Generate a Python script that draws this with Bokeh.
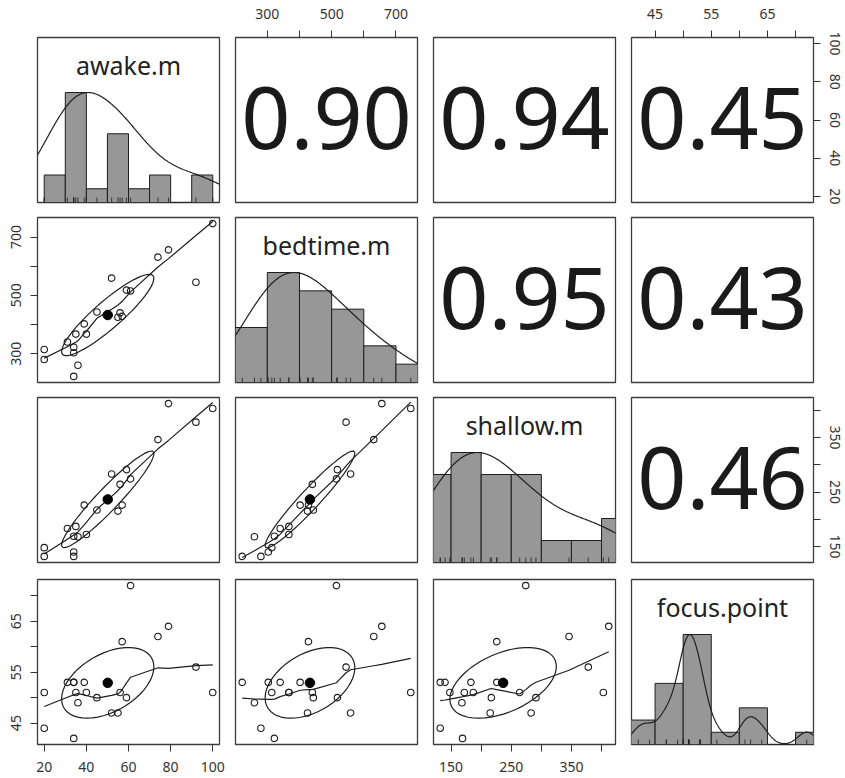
import math
import numpy as np
from bokeh.plotting import figure
from bokeh.layouts import gridplot
from bokeh.models import Range1d, LinearAxis, FixedTicker
from bokeh.core.properties import value
from bokeh.embed import file_html
from bokeh.resources import INLINE

# ---------------- data ----------------
var_names = ["awake.m", "bedtime.m", "shallow.m", "focus.point"]
awake = [61, 79, 74, 57, 92, 31, 39, 34, 34, 20, 35, 40, 56, 100, 45, 59, 36, 52, 55, 20, 34]
bedtime = [515, 656, 631, 428, 545, 340, 402, 303, 222, 314, 367, 367, 440, 746, 443, 518, 260, 559, 425, 280, 322]
shallow = [274, 412, 346, 226, 378, 183, 226, 140, 132, 148, 187, 172, 264, 403, 217, 291, 168, 283, 215, 132, 169]
focus = [72, 64, 62, 61, 56, 53, 53, 53, 53, 51, 51, 51, 51, 51, 50, 50, 49, 47, 47, 44, 42]

awake_breaks = [20, 30, 40, 50, 60, 70, 80, 90, 100]
bedtime_breaks = [200, 300, 400, 500, 600, 700, 800]
shallow_breaks = [100, 150, 200, 250, 300, 350, 400, 450]
focus_breaks = [40, 45, 50, 55, 60, 65, 70, 75]

awake_ticks = [20, 40, 60, 80, 100]
bedtime_ticks = [300, 400, 500, 600, 700]
shallow_ticks = [150, 200, 250, 300, 350, 400]
focus_ticks = [45, 50, 55, 60, 65, 70]
awake_tick_labels = ["20", "40", "60", "80", "100"]
bedtime_tick_labels = ["300", "", "500", "", "700"]
shallow_tick_labels = ["150", "", "250", "", "350", ""]
focus_tick_labels = ["45", "", "55", "", "65", ""]

corr_labels = [["", "0.90", "0.94", "0.45"],
               ["", "", "0.95", "0.43"],
               ["", "", "", "0.46"],
               ["", "", "", ""]]

series = [awake, bedtime, shallow, focus]
breaks = [awake_breaks, bedtime_breaks, shallow_breaks, focus_breaks]
ticks = [awake_ticks, bedtime_ticks, shallow_ticks, focus_ticks]
tick_labels = [awake_tick_labels, bedtime_tick_labels, shallow_tick_labels, focus_tick_labels]

# ---------------- helpers ----------------
def data_range(v):
    lo, hi = float(min(v)), float(max(v))
    d = (hi - lo) * 0.04
    return lo - d, hi + d


def hist_counts(x, br):
    x = np.asarray(x, float)
    br = np.asarray(br, float)
    idx = np.searchsorted(br, x, side="left") - 1
    idx[x == br[0]] = 0
    return np.bincount(idx, minlength=len(br) - 1)[: len(br) - 1]


def density_curve(x):
    x = np.asarray(x, float)
    n = len(x)
    q1, q3 = np.quantile(x, [0.25, 0.75])
    bw = 1.06 * min(np.std(x, ddof=1), (q3 - q1) / 1.34) * n ** (-0.2) * 1.2
    gx = np.linspace(x.min() - 3 * bw, x.max() + 3 * bw, 512)
    gy = np.exp(-0.5 * ((gx[:, None] - x[None, :]) / bw) ** 2).sum(1)
    return gx, gy / gy.max()


def lowess(xv, yv, f=2 / 3, iters=3):
    o = np.argsort(np.asarray(xv, float), kind="stable")
    xs_ = np.asarray(xv, float)[o]
    ys_ = np.asarray(yv, float)[o]
    n = len(xs_)
    delta = 0.01 * (xs_[-1] - xs_[0])
    X = np.concatenate([[0.0], xs_])
    Y = np.concatenate([[0.0], ys_])
    fit = np.zeros(n + 1)
    rw = np.ones(n + 1)
    w = np.zeros(n + 1)
    res = np.zeros(n + 1)
    ns = max(2, min(n, int(f * n + 1e-7)))

    def lowest(xq, nleft, nright, userw):
        rng = X[n] - X[1]
        h = max(xq - X[nleft], X[nright] - xq)
        h9, h1 = 0.999 * h, 0.001 * h
        a = 0.0
        j = nleft
        while j <= n:
            w[j] = 0.0
            r = abs(X[j] - xq)
            if r <= h9:
                w[j] = 1.0 if r <= h1 else (1 - (r / h) ** 3) ** 3
                if userw:
                    w[j] *= rw[j]
                a += w[j]
            elif X[j] > xq:
                break
            j += 1
        nrt = j - 1
        if a <= 0:
            return None
        for k in range(nleft, nrt + 1):
            w[k] /= a
        if h > 0:
            a = sum(w[k] * X[k] for k in range(nleft, nrt + 1))
            b = xq - a
            c = sum(w[k] * (X[k] - a) ** 2 for k in range(nleft, nrt + 1))
            if math.sqrt(c) > 0.001 * rng:
                b /= c
                for k in range(nleft, nrt + 1):
                    w[k] *= (b * (X[k] - a) + 1)
        return sum(w[k] * Y[k] for k in range(nleft, nrt + 1))

    it = 1
    while it <= iters + 1:
        nleft, nright, last, i = 1, ns, 0, 1
        while True:
            if nright < n:
                d1 = X[i] - X[nleft]
                d2 = X[nright + 1] - X[i]
                if d1 > d2:
                    nleft += 1
                    nright += 1
                    continue
            v = lowest(X[i], nleft, nright, it > 1)
            fit[i] = Y[i] if v is None else v
            if last < i - 1:
                denom = X[i] - X[last]
                for j in range(last + 1, i):
                    alpha = (X[j] - X[last]) / denom
                    fit[j] = alpha * fit[i] + (1 - alpha) * fit[last]
            last = i
            cut = X[last] + delta
            i = last + 1
            while i <= n:
                if X[i] > cut:
                    break
                if X[i] == X[last]:
                    fit[i] = fit[last]
                    last = i
                i += 1
            i = max(last + 1, i - 1)
            if last >= n:
                break
        res[1:] = Y[1:] - fit[1:]
        if it > iters:
            break
        absr = np.abs(res[1:])
        srt = np.sort(absr)
        m1 = n // 2
        if n % 2 == 0:
            cmad = 3 * (srt[m1] + srt[n - m1 - 1])
        else:
            cmad = 6 * srt[m1]
        if cmad < 1e-7 * absr.mean():
            break
        c9, c1 = 0.999 * cmad, 0.001 * cmad
        for k in range(1, n + 1):
            r = abs(res[k])
            rw[k] = 1.0 if r <= c1 else ((1 - (r / cmad) ** 2) ** 2 if r <= c9 else 0.0)
        it += 1
    return xs_, fit[1:]


def ellipse(xv, yv, segments=51):
    xv = np.asarray(xv, float)
    yv = np.asarray(yv, float)
    xm, ym = xv.mean(), yv.mean()
    sx, sy = xv.std(ddof=1), yv.std(ddof=1)
    r = np.corrcoef(xv, yv)[0, 1]
    t = np.sign(r) / math.sqrt(2) if abs(r) > 0 else 1 / math.sqrt(2)
    a, b = math.sqrt(1 + r), math.sqrt(1 - r)
    ang = np.arange(segments + 1) * 2 * math.pi / segments
    ex = (np.cos(ang) * a * t - np.sin(ang) * b * t) * sx + xm
    ey = (np.cos(ang) * a * t + np.sin(ang) * b * t) * sy + ym
    return ex, ey, xm, ym


# ---------------- layout ----------------
FW, FH = 182, 165
INK = "#1e1e1e"
BOX = "#3c3c3c"
LABEL_COL = "#333333"
FONT = "Noto Sans"

left_b = [37, 8, 8, 8]
right_b = [8, 8, 8, 32]
top_b = [37, 8, 8, 9]
bottom_b = [7, 7, 8, 33]
standoffs = {"above": 12, "below": 10, "left": 9, "right": 9}


def add_axis(p, loc, k):
    ax = LinearAxis(ticker=FixedTicker(ticks=ticks[k]),
                    major_label_overrides={t: s for t, s in zip(ticks[k], tick_labels[k])})
    ax.axis_line_color = None
    ax.major_tick_out = 7
    ax.major_tick_in = 0
    ax.major_tick_line_color = LABEL_COL
    ax.major_tick_line_width = 1
    ax.minor_tick_line_color = None
    ax.major_label_text_font = FONT
    ax.major_label_text_font_size = "14px"
    ax.major_label_text_color = LABEL_COL
    ax.major_label_standoff = standoffs[loc]
    if loc in ("left", "right"):
        ax.major_label_orientation = "vertical"
    p.add_layout(ax, loc)


grid = []
for i in range(4):
    row = []
    for j in range(4):
        if i == j:
            xr = data_range(series[i])
            yr = (0.0, 1.5)
        else:
            xr = data_range(series[j])
            yr = data_range(series[i])
        p = figure(width=FW + left_b[j] + right_b[j], height=FH + top_b[i] + bottom_b[i],
                   x_range=Range1d(*xr), y_range=Range1d(*yr),
                   output_backend="svg", toolbar_location=None,
                   x_axis_location=None, y_axis_location=None,
                   min_border_left=left_b[j], min_border_right=right_b[j],
                   min_border_top=top_b[i], min_border_bottom=bottom_b[i])
        p.grid.visible = False
        p.outline_line_color = BOX
        p.outline_line_width = 1.3
        p.background_fill_color = "white"
        p.border_fill_color = "white"

        if i == j:
            v = series[i]
            br = breaks[i]
            cnt = hist_counts(v, br)
            top = cnt / cnt.max()
            p.quad(left=br[:-1], right=br[1:], bottom=0, top=top,
                   fill_color="#979797", line_color=INK, line_width=1)
            dx, dy = density_curve(v)
            p.line(dx, dy, line_color=INK, line_width=1.2)
            p.segment(x0=v, y0=0, x1=v, y1=0.045, line_color=INK, line_width=0.8)
            p.text(x=[(xr[0] + xr[1]) / 2], y=[0.836 * 1.5], text=[var_names[i]],
                   text_font=value(FONT), text_font_size=value("25px"),
                   text_color="#222222", text_align="center", text_baseline="alphabetic")
        elif i > j:
            xv, yv = series[j], series[i]
            p.scatter(xv, yv, marker="circle", size=6.5, fill_color=None,
                      line_color=INK, line_width=1.1)
            lx, ly = lowess(xv, yv)
            p.line(lx, ly, line_color=INK, line_width=1.2)
            ex, ey, xm, ym = ellipse(xv, yv)
            p.line(ex, ey, line_color=INK, line_width=1.2)
            p.scatter([xm], [ym], marker="circle", size=9.5, fill_color="black", line_color="black")
        else:
            p.text(x=[(xr[0] + xr[1]) / 2], y=[yr[0] + 0.515 * (yr[1] - yr[0])],
                   text=[corr_labels[i][j]],
                   text_font=value(FONT), text_font_size=value("86px"),
                   text_color="#1a1a1a", text_align="center", text_baseline="alphabetic")

        if i == 0 and j % 2 == 1:
            add_axis(p, "above", j)
        if i == 3 and j % 2 == 0:
            add_axis(p, "below", j)
        if j == 0 and i % 2 == 1:
            add_axis(p, "left", i)
        if j == 3 and i % 2 == 0:
            add_axis(p, "right", i)
        row.append(p)
    grid.append(row)

layout = gridplot(grid, toolbar_location=None)

open("out.html", "w").write(file_html(layout, INLINE))
